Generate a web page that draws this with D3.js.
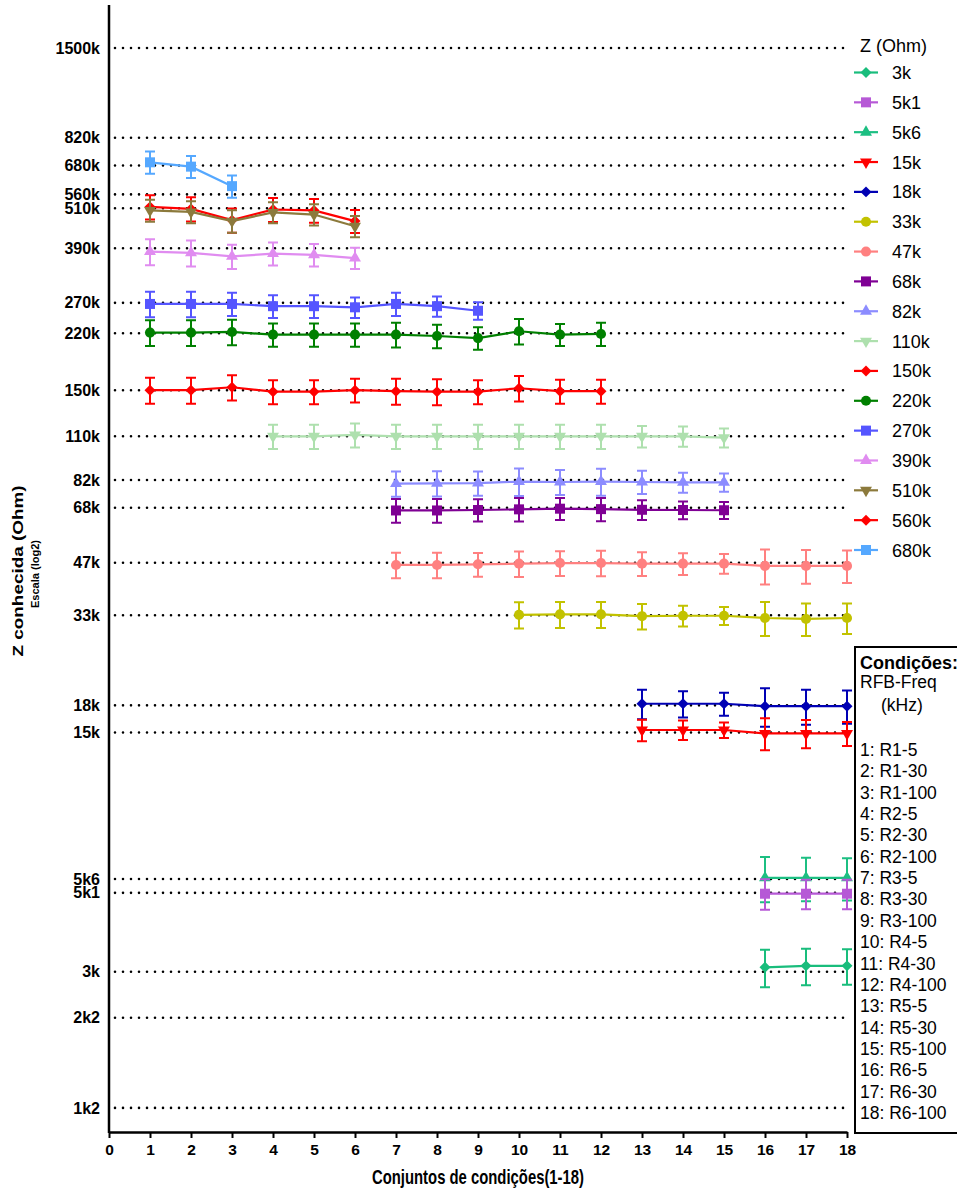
<!DOCTYPE html>
<html>
<head>
<meta charset="utf-8">
<script src="https://cdn.jsdelivr.net/npm/d3@7"></script>
<style>
  body { margin: 0; background: #fff; }
  svg { display: block; font-family: "Liberation Sans", Arial, sans-serif; }
</style>
</head>
<body>
<svg id="chart" width="957" height="1191"></svg>
<script>
// condition sets 1..18 (RFB-Freq kHz)
const conditionLabels = ["R1-5", "R1-30", "R1-100", "R2-5", "R2-30", "R2-100", "R3-5", "R3-30", "R3-100",
    "R4-5", "R4-30", "R4-100", "R5-5", "R5-30", "R5-100", "R6-5", "R6-30", "R6-100"];

// y ticks (kOhm) and their labels
const yTickValues = [1500, 820, 680, 560, 510, 390, 270, 220, 150, 110, 82, 68, 47, 33, 18, 15, 5.6, 5.1, 3, 2.2, 1.2];
const yTickLabels = ["1500k", "820k", "680k", "560k", "510k", "390k", "270k", "220k", "150k", "110k", "82k", "68k",
    "47k", "33k", "18k", "15k", "5k6", "5k1", "3k", "2k2", "1k2"];

// known Z series, legend order
const seriesNames = ["3k", "5k1", "5k6", "15k", "18k", "33k", "47k", "68k", "82k", "110k", "150k", "220k", "270k", "390k", "510k", "560k", "680k"];
// first condition set of each series
const seriesFirst = [16, 16, 16, 13, 13, 10, 7, 7, 7, 4, 1, 1, 1, 1, 1, 1, 1];

// measured means (kOhm) and error (kOhm)
const m3k = [3.09, 3.12, 3.12];
const e3k = [0.39, 0.38, 0.37];
const m5k1 = [5.07, 5.07, 5.07];
const e5k1 = [0.52, 0.50, 0.50];
const m5k6 = [5.64, 5.64, 5.64];
const e5k6 = [0.85, 0.82, 0.80];
const m15k = [15.25, 15.25, 15.25, 14.9, 14.9, 14.9];
const e15k = [1.1, 1.0, 0.8, 1.6, 1.4, 1.2];
const m18k = [18.2, 18.2, 18.2, 17.9, 17.9, 17.9];
const e18k = [1.8, 1.6, 1.4, 2.3, 2.1, 2.0];
const m33k = [33.1, 33.2, 33.2, 32.8, 32.9, 32.9, 32.4, 32.2, 32.4];
const e33k = [2.9, 2.9, 2.9, 2.8, 2.3, 2.0, 3.7, 3.5, 3.3];
const m47k = [46.3, 46.3, 46.5, 46.7, 46.9, 46.9, 46.7, 46.7, 46.7, 46.0, 46.0, 46.0];
const e47k = [4.0, 4.0, 3.7, 4.0, 3.9, 4.0, 3.7, 3.4, 3.1, 5.4, 5.2, 5.0];
const m68k = [66.8, 66.8, 67.0, 67.3, 67.6, 67.4, 67.1, 67.0, 66.9];
const e68k = [5.3, 5.3, 5.0, 5.3, 5.0, 5.3, 4.5, 4.0, 3.8];
const m82k = [80.0, 80.2, 80.3, 81.1, 80.9, 81.1, 80.9, 80.7, 80.7];
const e82k = [6.8, 6.8, 6.5, 7.5, 6.8, 7.3, 6.3, 5.4, 5.0];
const m110k = [110, 110, 111, 110, 110, 110, 110, 110, 110, 110, 110, 109];
const e110k = [9, 9, 9, 9, 9, 9, 9, 9, 9, 8, 7.5, 7];
const m150k = [150, 150, 153, 148.5, 148.5, 150, 149, 148.5, 148.5, 152, 149, 149];
const e150k = [13, 13, 13, 12, 12, 12, 13, 13, 12, 13, 12, 12];
const m220k = [221, 221, 222, 218, 218, 218, 218, 216, 213, 223, 218, 219];
const e220k = [19, 19, 19, 17, 17, 17, 18, 17, 16, 19, 16, 17];
const m270k = [268, 268, 268, 264, 264, 262, 268, 264, 256];
const e270k = [23, 23, 21, 20, 20, 18, 21, 18, 15];
const m390k = [381, 378, 369, 376, 373, 365];
const e390k = [33, 33, 30, 29, 28, 26];
const m510k = [503, 498, 468, 496, 489, 452];
const e510k = [37, 37, 35, 35, 35, 32];
const m560k = [515, 508, 471, 506, 503, 468];
const e560k = [42, 41, 38, 41, 40, 36];
const m680k = [695, 675, 592];
const e680k = [52, 50, 44];

const seriesMeans = [m3k, m5k1, m5k6, m15k, m18k, m33k, m47k, m68k, m82k, m110k, m150k, m220k, m270k, m390k, m510k, m560k, m680k];
const seriesErrors = [e3k, e5k1, e5k6, e15k, e18k, e33k, e47k, e68k, e82k, e110k, e150k, e220k, e270k, e390k, e510k, e560k, e680k];

// styles
const seriesColors = ["#19bd7c", "#b659d6", "#1cbf82", "#ff0000", "#0000b4", "#c2c200", "#ff8080", "#7f0094", "#8c8cff",
    "#aee0ae", "#ff0000", "#008000", "#5555ff", "#e08cf0", "#8c7a3c", "#ff0000", "#55a8ff"];
const seriesShapes = ["diamond", "square", "up", "down", "diamond", "circle", "circle", "square", "up",
    "down", "diamond", "circle", "square", "up", "down", "diamond", "square"];

const series = seriesNames.map((name, i) => ({
    name: name,
    color: seriesColors[i],
    shape: seriesShapes[i],
    points: seriesMeans[i].map((m, j) => ({ x: seriesFirst[i] + j, y: m, e: seriesErrors[i][j] }))
}));

const svg = d3.select("#chart");
const x = d3.scaleLinear().domain([0, 18]).range([109, 847]);
const y = d3.scaleLog().base(2).domain([1, 2000]).range([1135, 5.2]);

function symbolPath(shape) {
    if (shape === "square") return d3.symbol(d3.symbolSquare, 100)();
    if (shape === "circle") return d3.symbol(d3.symbolCircle, 80)();
    if (shape === "diamond") return d3.symbol(d3.symbolSquare, 60)();
    return d3.symbol(d3.symbolTriangle, 62)();
}
function symbolRotate(shape) {
    if (shape === "diamond") return " rotate(45)";
    if (shape === "down") return " rotate(180)";
    return "";
}

// dotted gridlines
svg.append("g")
    .selectAll("line")
    .data(yTickValues)
    .join("line")
    .attr("x1", x(0))
    .attr("x2", x(18) - 2)
    .attr("y1", d => y(d))
    .attr("y2", d => y(d))
    .attr("stroke", "#000")
    .attr("stroke-width", 2.6)
    .attr("stroke-linecap", "round")
    .attr("stroke-dasharray", "0 8")
    .attr("stroke-dashoffset", 2);

// y axis
const yAxis = svg.append("g")
    .attr("transform", `translate(${x(0)},0)`)
    .call(d3.axisLeft(y).tickValues(yTickValues).tickFormat((d, i) => yTickLabels[i]).tickSize(0).tickPadding(9).tickSizeOuter(0));
yAxis.select(".domain").remove();
yAxis.append("line")
    .attr("y1", 5).attr("y2", 1133)
    .attr("stroke", "#000").attr("stroke-width", 2.5);
yAxis.selectAll("text").attr("font-size", 16).attr("font-weight", "bold").attr("fill", "#000")
    .attr("font-family", "'Liberation Sans', Arial, sans-serif");

// x axis
const xAxis = svg.append("g")
    .attr("transform", `translate(0,${1132})`)
    .call(d3.axisBottom(x).ticks(18).tickFormat(d3.format("d")).tickSize(6).tickSizeOuter(0).tickPadding(6));
xAxis.select(".domain").attr("stroke-width", 2.5);
xAxis.selectAll(".tick line").attr("stroke-width", 2);
xAxis.selectAll("text").attr("font-size", 15.5).attr("font-weight", "bold").attr("fill", "#000")
    .attr("font-family", "'Liberation Sans', Arial, sans-serif");

// axis titles (the source figure is squeezed horizontally)
svg.append("text")
    .attr("transform", "translate(23,571) scale(0.76,1) rotate(-90)")
    .attr("text-anchor", "middle")
    .attr("font-size", 19)
    .attr("font-weight", "bold")
    .attr("textLength", 171)
    .attr("lengthAdjust", "spacingAndGlyphs")
    .text("Z conhecida (Ohm)");
svg.append("text")
    .attr("transform", "translate(39,574) rotate(-90)")
    .attr("text-anchor", "middle")
    .attr("font-size", 11)
    .attr("font-weight", "bold")
    .attr("textLength", 68)
    .attr("lengthAdjust", "spacingAndGlyphs")
    .text("Escala (log2)");
svg.append("text")
    .attr("x", 478)
    .attr("y", 1184)
    .attr("text-anchor", "middle")
    .attr("font-size", 20.5)
    .attr("font-weight", "bold")
    .attr("textLength", 212)
    .attr("lengthAdjust", "spacingAndGlyphs")
    .text("Conjuntos de condições(1-18)");

// series, drawn from last to first so the lower legend entries sit on top
const line = d3.line().x(d => x(d.x)).y(d => y(d.y));
const plot = svg.append("g");
series.slice().reverse().forEach(s => {
    const g = plot.append("g").attr("stroke", s.color).attr("fill", s.color);
    g.selectAll("path.err")
        .data(s.points)
        .join("path")
        .attr("class", "err")
        .attr("fill", "none")
        .attr("stroke-width", 2)
        .attr("d", d => {
            const cx = x(d.x), t = y(d.y + d.e), b = y(d.y - d.e);
            return `M${cx - 5},${t}H${cx + 5}M${cx},${t}V${b}M${cx - 5},${b}H${cx + 5}`;
        });
    g.append("path")
        .datum(s.points)
        .attr("fill", "none")
        .attr("stroke-width", 2.2)
        .attr("d", line);
    g.selectAll("path.mk")
        .data(s.points)
        .join("path")
        .attr("class", "mk")
        .attr("stroke", "none")
        .attr("transform", d => `translate(${x(d.x)},${y(d.y)})` + symbolRotate(s.shape))
        .attr("d", symbolPath(s.shape));
});

// legend
const legend = svg.append("g").attr("font-size", 18);
legend.append("text").attr("x", 860).attr("y", 52).text("Z (Ohm)");
const rowY = d3.scaleLinear().domain([0, series.length - 1]).range([72.5, 550]);
series.forEach((s, i) => {
    const cy = rowY(i);
    legend.append("line")
        .attr("x1", 854).attr("x2", 878)
        .attr("y1", cy).attr("y2", cy)
        .attr("stroke", s.color).attr("stroke-width", 2.2);
    legend.append("path")
        .attr("transform", `translate(866,${cy})` + symbolRotate(s.shape))
        .attr("d", symbolPath(s.shape))
        .attr("fill", s.color);
    legend.append("text")
        .attr("x", 892).attr("y", cy + 6.5)
        .text(s.name);
});

// conditions box
const box = svg.append("g").attr("font-size", 17.5);
box.append("rect")
    .attr("x", 855).attr("y", 647)
    .attr("width", 130).attr("height", 486)
    .attr("fill", "#fff").attr("stroke", "#000").attr("stroke-width", 2);
box.append("text").attr("x", 860).attr("y", 669).attr("font-weight", "bold").attr("font-size", 18).text("Condições:");
box.append("text").attr("x", 860).attr("y", 688).text("RFB-Freq");
box.append("text").attr("x", 881).attr("y", 711).text("(kHz)");
box.selectAll("text.cond")
    .data(conditionLabels)
    .join("text")
    .attr("class", "cond")
    .attr("x", 860)
    .attr("y", (d, i) => 756 + i * 21.35)
    .text((d, i) => `${i + 1}: ${d}`);
</script>
</body>
</html>
